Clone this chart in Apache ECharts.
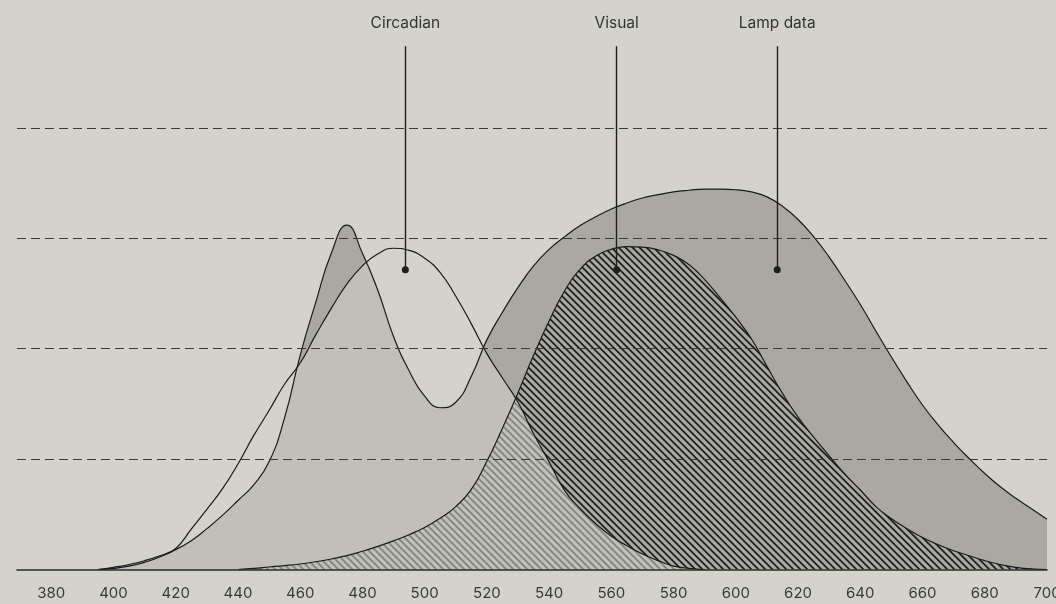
<!DOCTYPE html>
<html>
<head>
<meta charset="utf-8">
<script src="https://cdn.jsdelivr.net/npm/echarts@6/dist/echarts.min.js"></script>
<style>
html,body{margin:0;padding:0;background:#d3d3cc;}
#chart{width:1056px;height:604px;}
</style>
</head>
<body>
<div id="chart"></div>
<script>
// Wavelength (nm) and relative values
const lampWavelengths = [395,400,405,410,415,420,425,430,435,440,445,450,455,460,465,470,475,480,485,490,495,500,505,510,515,520,525,530,535,540,545,550,555,560,565,570,575,580,585,590,595,600,605,610,615,620,625,630,635,640,645,650,655,660,665,670,675,680,685,690,695,700];
const lampValues      = [0,0.4,0.9,1.6,2.5,3.6,5.2,7.4,9.8,12.5,15.3,19.5,27.5,38.8,48.4,57.3,62.4,57.3,50.5,42.2,36,31.4,29.3,30.3,35,41.6,46.6,51.1,55,58,60.3,62.3,63.9,65.3,66.4,67.3,67.9,68.4,68.7,68.9,68.9,68.8,68.4,67.5,65.8,63.4,60.3,56.6,52.4,48,43.2,38.5,34,29.8,26.2,23,20.1,17.4,15,12.9,11,9.1];

const circadianWavelengths = [395,400,405,410,415,420,425,430,435,440,445,450,455,460,465,470,475,480,485,490,495,500,505,510,515,520,525,530,535,540,545,550,555,560,565,570,575,580,585,590];
const circadianValues      = [0,0.2,0.6,1.3,2.3,3.8,7.3,10.9,14.6,19.1,24.2,28.8,33.6,37.4,42.5,47.3,51.7,55,57.2,58.2,57.8,56.4,53.8,49.5,44.5,39.1,34.7,30.3,24.6,19.5,14.3,11.0,8.3,6.0,4.3,2.8,1.6,0.6,0.2,0];

const visualWavelengths = [440,445,450,455,460,465,470,475,480,485,490,495,500,505,510,515,520,525,530,535,540,545,550,555,560,565,570,575,580,585,590,595,600,605,610,615,620,625,630,635,640,645,650,655,660,665,670,675,680,685,690,695,700];
const visualValues      = [0,0.2,0.45,0.7,1.0,1.4,1.9,2.5,3.3,4.2,5.2,6.3,7.6,9.3,11.4,14.5,19.6,25.6,32.0,38.8,45.0,50.5,54.4,56.8,58.0,58.5,58.4,57.9,56.9,55.2,52.5,49.2,45.7,41.8,36.8,31.9,27.6,24.0,20.6,17.3,14.4,11.4,9.2,7.4,5.8,4.5,3.4,2.5,1.6,0.9,0.4,0.1,0];

// Annotations: label, wavelength, value at the dot, value at the top of the leader
const annotationNames  = ['Circadian','Visual','Lamp data'];
const annotationX      = [493.8, 561.7, 613.3];
const annotationDotY   = [54.3, 54.3, 54.3];
const annotationTopY   = [94.8, 94.8, 94.8];

// x tick labels
const xTickLabels = [380,400,420,440,460,480,500,520,540,560,580,600,620,640,660,680,700];
const xMin = 369, xMax = 700;

function pairs(xs, ys){ return xs.map((x,i)=>[x, ys[i]]); }

function hatch(color, size, width){
  const c = document.createElement('canvas');
  c.width = size; c.height = size;
  const g = c.getContext('2d');
  g.strokeStyle = color; g.lineWidth = width;
  g.beginPath();
  for (let k=-1;k<=1;k++){ g.moveTo(k*size-1, -1); g.lineTo(k*size+size+1, size+1); }
  g.stroke();
  return c;
}

function annotation(i){
  return {
    silent: true,
    symbol: ['circle','none'],
    symbolSize: 7,
    lineStyle: {color:'#1e1e1e', width:1.4, type:'solid'},
    itemStyle: {color:'#1e1e1e'},
    label: {show:true, position:'end', distance:15, formatter: annotationNames[i],
            color:'#333', fontFamily:'Inter, Roboto, sans-serif', fontSize:15.5},
    emphasis: {disabled:true},
    data: [[{coord:[annotationX[i], annotationDotY[i]]},{coord:[annotationX[i], annotationTopY[i]]}]]
  };
}

const chart = echarts.init(document.getElementById('chart'), null, {renderer:'canvas'});
const lineBase = {type:'line', smooth:0.5, showSymbol:false, symbol:'none', animation:false, z:2, clip:false};

chart.setOption({
  backgroundColor:'#d3d3cc',
  animation:false,
  grid:{left:17, right:9, top:17.5, bottom:34.5, containLabel:false, outerBoundsMode:'none'},
  xAxis:{
    type:'value', min:xMin, max:xMax, z:4,
    axisLine:{show:true, onZero:false, lineStyle:{color:'#2b2b2b', width:1.6}},
    axisTick:{show:false},
    splitLine:{show:false},
    axisLabel:{customValues:xTickLabels, margin:16, color:'#3a3a3a', fontSize:15, fontFamily:'Inter, Roboto, sans-serif'}
  },
  yAxis:{
    type:'value', min:0, max:100, interval:20, z:3,
    axisLine:{show:false}, axisTick:{show:false}, axisLabel:{show:false},
    splitLine:{show:true, showMinLine:false, showMaxLine:false, lineStyle:{color:'#3a3a3a', width:1.2, type:[9,5]}}
  },
  series:[
    Object.assign({}, lineBase, {
      name:'Lamp data', data: pairs(lampWavelengths, lampValues),
      lineStyle:{color:'#1a1a1a', width:1.2},
      areaStyle:{color:'#a9a9a2', opacity:1},
      markLine: annotation(2)
    }),
    Object.assign({}, lineBase, {
      name:'Visual', data: pairs(visualWavelengths, visualValues),
      lineStyle:{color:'#1a1a1a', width:1.2},
      areaStyle:{color:{image: hatch('#1e1e1e', 7, 1.7), repeat:'repeat'}, opacity:1},
      markLine: annotation(1)
    }),
    Object.assign({}, lineBase, {
      name:'Circadian', data: pairs(circadianWavelengths, circadianValues),
      lineStyle:{color:'#1a1a1a', width:1.2},
      areaStyle:{color:'rgba(211,211,204,0.56)', opacity:1},
      markLine: annotation(0)
    })
  ]
});
</script>
</body>
</html>
